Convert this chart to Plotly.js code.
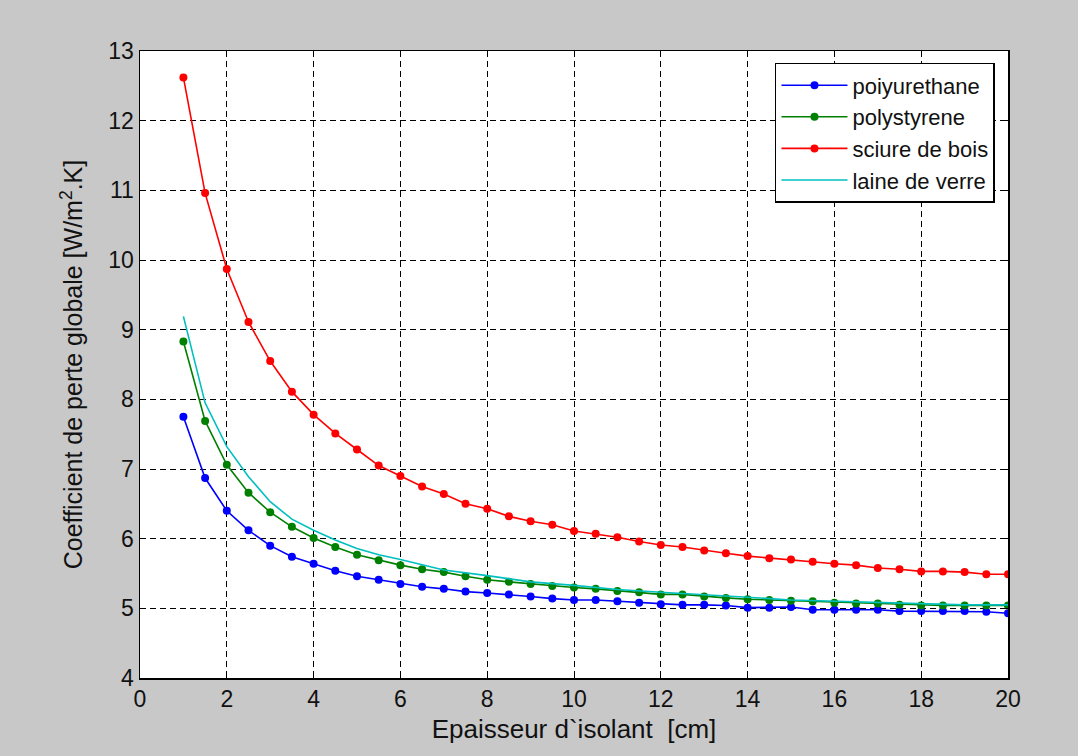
<!DOCTYPE html>
<html>
<head>
<meta charset="utf-8">
<script src="https://cdn.plot.ly/plotly-3.0.1.min.js"></script>
<style>html,body{margin:0;padding:0;background:#c8c8c8;}#chart{width:1078px;height:756px;}</style>
</head>
<body>
<div id="chart"></div>
<script>
// Epaisseur d'isolant (cm)
const xMarked = [1,1.5,2,2.5,3,3.5,4,4.5,5,5.5,6,6.5,7,7.5,8,8.5,9,9.5,10,10.5,11,11.5,12,12.5,13,13.5,14,14.5,15,15.5,16,16.5,17,17.5,18,18.5,19,19.5,20];
const poiyurethane = [7.75,6.87,6.40,6.12,5.90,5.74,5.64,5.54,5.46,5.41,5.35,5.31,5.28,5.24,5.22,5.20,5.17,5.14,5.12,5.12,5.10,5.08,5.06,5.05,5.05,5.04,5.01,5.01,5.02,4.98,4.98,4.98,4.98,4.96,4.96,4.96,4.96,4.95,4.93];
const polystyrene = [8.83,7.69,7.06,6.66,6.38,6.17,6.01,5.88,5.77,5.69,5.62,5.56,5.52,5.46,5.41,5.38,5.35,5.32,5.30,5.28,5.25,5.23,5.20,5.20,5.17,5.15,5.13,5.12,5.11,5.10,5.08,5.07,5.07,5.05,5.04,5.04,5.04,5.04,5.04];
const sciureDeBois = [12.62,10.96,9.87,9.11,8.55,8.11,7.78,7.51,7.28,7.05,6.90,6.75,6.64,6.50,6.43,6.32,6.25,6.20,6.11,6.07,6.02,5.96,5.91,5.88,5.83,5.79,5.75,5.72,5.70,5.67,5.64,5.62,5.58,5.56,5.53,5.53,5.52,5.49,5.49];
const xLaine = [1,1.5,2,2.5,3,3.5,4,4.5,5,5.5,6,6.5,7,8,9,10,11,12,13,14,15,16,17,18,19,20];
const laineDeVerre = [9.19,7.95,7.32,6.89,6.53,6.28,6.12,5.98,5.86,5.77,5.70,5.63,5.55,5.47,5.38,5.33,5.27,5.23,5.20,5.16,5.12,5.10,5.08,5.07,5.05,5.05];

const xTicks = [0,2,4,6,8,10,12,14,16,18,20];
const yTicks = [4,5,6,7,8,9,10,11,12,13];

const FONT = 'Liberation Sans, Arial, Helvetica, sans-serif';
const TEXT = '#111';
function marked(name, y, color) {
  return {x: xMarked, y: y, name: name, type: 'scatter', mode: 'lines+markers',
    line: {color: color, width: 1.6}, marker: {color: color, size: 8}};
}
const traces = [
  marked('poiyurethane', poiyurethane, '#0000ff'),
  marked('polystyrene', polystyrene, '#008000'),
  marked('sciure de bois', sciureDeBois, '#ff0000'),
  {x: xLaine, y: laineDeVerre, name: 'laine de verre', type: 'scatter', mode: 'lines',
    line: {color: '#00bfbf', width: 1.6}}
];
const axisCommon = {
  showline: true, linecolor: '#000', linewidth: 1.5, mirror: 'allticks',
  ticks: 'inside', ticklen: 6, tickcolor: '#000', tickwidth: 1,
  showgrid: true, gridcolor: '#000', gridwidth: 1, griddash: '6px,4px',
  zeroline: false, tickfont: {family: FONT, size: 23, color: TEXT}
};
const layout = {
  width: 1078, height: 756,
  paper_bgcolor: '#c8c8c8', plot_bgcolor: '#ffffff',
  margin: {l: 140, r: 70, t: 51, b: 78},
  showlegend: true,
  legend: {x: 0.985, y: 0.981, xanchor: 'right', yanchor: 'top', itemwidth: 66,
    bgcolor: '#ffffff', bordercolor: '#000', borderwidth: 1.5,
    font: {family: FONT, size: 22, color: TEXT}},
  xaxis: Object.assign({}, axisCommon, {range: [0, 20], tickvals: xTicks, ticktext: xTicks.map(String),
    title: {text: 'Epaisseur d`isolant  [cm]', font: {family: FONT, size: 26, color: TEXT}, standoff: 8}}),
  yaxis: Object.assign({}, axisCommon, {range: [4, 13], tickvals: yTicks, ticktext: yTicks.map(String),
    title: {text: 'Coefficient de perte globale [W/m<sup>2</sup>.K]', font: {family: FONT, size: 25, color: TEXT}, standoff: 18}})
};
Plotly.newPlot('chart', traces, layout, {displayModeBar: false, staticPlot: true});
</script>
</body>
</html>
